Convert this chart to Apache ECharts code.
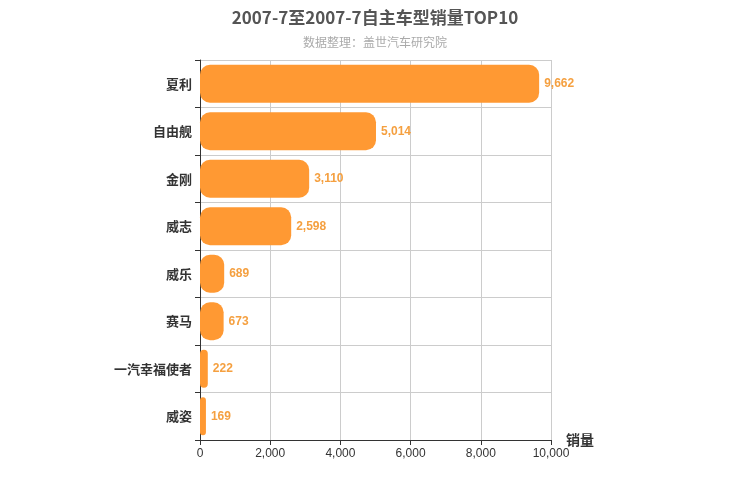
<!DOCTYPE html>
<html><head><meta charset="utf-8">
<script src="https://cdn.jsdelivr.net/npm/echarts@6/dist/echarts.min.js"></script>
<style>html,body{margin:0;padding:0;background:#fff}#c{width:750px;height:500px}</style>
</head><body><div id="c"></div>
<script>
const categories = ['夏利','自由舰','金刚','威志','威乐','赛马','一汽幸福使者','威姿'];
const sales = [9662,5014,3110,2598,689,673,222,169];
const xTicks = [0,2000,4000,6000,8000,10000];
const chart = echarts.init(document.getElementById('c'));
chart.setOption({
  backgroundColor:'#fff',
  title:{text:'2007-7至2007-7自主车型销量TOP10',subtext:'数据整理：盖世汽车研究院',left:'center',top:4,
    textStyle:{fontSize:17,fontWeight:'bold',color:'#555',fontFamily:'Noto Sans CJK SC'},
    subtextStyle:{fontSize:12,color:'#aaa',fontFamily:'Noto Sans CJK SC'},itemGap:10},
  grid:{left:200,right:199,top:60,bottom:60,containLabel:false},
  xAxis:{type:'value',min:0,max:10000,interval:2000,name:'销量',nameLocation:'end',
    nameTextStyle:{fontSize:14,fontWeight:'bold',color:'#333',padding:[30,0,0,0],fontFamily:'Noto Sans CJK SC'},
    axisLine:{show:true,lineStyle:{color:'#333'}},axisTick:{show:true},
    axisLabel:{color:'#333',fontSize:12,formatter:v=>v.toLocaleString('en-US')},
    splitLine:{lineStyle:{color:'#ccc'}}},
  yAxis:{type:'category',data:categories,inverse:true,
    axisLine:{lineStyle:{color:'#333'}},axisTick:{show:true},
    axisLabel:{fontSize:13,fontWeight:'bold',color:'#333',fontFamily:'Noto Sans CJK SC'},
    splitLine:{show:true,lineStyle:{color:'#ccc'}}},
  series:[{type:'bar',data:sales,barWidth:'80%',
    itemStyle:{color:'#FF9933',borderRadius:10},
    label:{show:true,position:'right',color:'#F5A040',fontWeight:'bold',fontSize:12,
      formatter:p=>p.value.toLocaleString('en-US')}}]
});
</script></body></html>
